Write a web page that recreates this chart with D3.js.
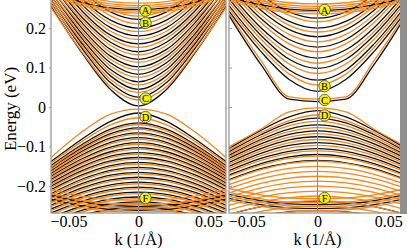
<!DOCTYPE html>
<html>
<head>
<meta charset="utf-8">
<script src="https://cdn.jsdelivr.net/npm/d3@7"></script>
<style>
html, body { margin: 0; padding: 0; background: #fff; }
svg { display: block; }
</style>
</head>
<body>
<svg id="chart" width="407" height="248"></svg>
<script>
// each band = energy (eV) at these k values (1/Å), mirrored for k < 0
const kSamples = [0, 0.02, 0.04, 0.0625];

const leftCondBlack = [
    [0.003, 0.0445, 0.135, 0.255],
    [0.025, 0.062, 0.147, 0.264],
    [0.045, 0.079, 0.159, 0.273],
    [0.064, 0.095, 0.172, 0.282],
    [0.083, 0.112, 0.184, 0.291],
    [0.102, 0.129, 0.198, 0.302],
    [0.121, 0.146, 0.212, 0.313],
    [0.140, 0.164, 0.226, 0.324],
    [0.160, 0.182, 0.242, 0.340],
    [0.180, 0.201, 0.258, 0.350],
    [0.200, 0.220, 0.274, 0.370],
    [0.222, 0.241, 0.293, 0.390],
    [0.247, 0.251, 0.265, 0.292]
];
const leftCondOrange = [
    [0.018, 0.052, 0.138, 0.252],
    [0.037, 0.070, 0.152, 0.262],
    [0.056, 0.087, 0.165, 0.271],
    [0.075, 0.104, 0.178, 0.280],
    [0.094, 0.121, 0.191, 0.290],
    [0.113, 0.138, 0.205, 0.300],
    [0.132, 0.156, 0.219, 0.311],
    [0.151, 0.174, 0.234, 0.322],
    [0.171, 0.192, 0.250, 0.335],
    [0.191, 0.211, 0.266, 0.350],
    [0.211, 0.231, 0.283, 0.370],
    [0.230, 0.248, 0.298, 0.385],
    [0.238, 0.242, 0.256, 0.285],
    [0.243, 0.247, 0.261, 0.290],
    [0.252, 0.256, 0.270, 0.296],
    [0.257, 0.261, 0.275, 0.302],
    [0.263, 0.267, 0.281, 0.308]
];
const leftValBlack = [
    [-0.015, -0.036, -0.080, -0.138],
    [-0.040, -0.056, -0.094, -0.148],
    [-0.0525, -0.067, -0.1025, -0.154],
    [-0.065, -0.078, -0.111, -0.161],
    [-0.0775, -0.089, -0.120, -0.168],
    [-0.090, -0.101, -0.130, -0.175],
    [-0.1025, -0.113, -0.140, -0.183],
    [-0.115, -0.124, -0.150, -0.192],
    [-0.1275, -0.136, -0.160, -0.200],
    [-0.140, -0.148, -0.171, -0.209],
    [-0.1525, -0.160, -0.182, -0.219],
    [-0.165, -0.172, -0.193, -0.228],
    [-0.1775, -0.184, -0.204, -0.238],
    [-0.190, -0.197, -0.215, -0.248],
    [-0.2025, -0.209, -0.227, -0.258],
    [-0.215, -0.221, -0.238, -0.268],
    [-0.2275, -0.233, -0.250, -0.279],
    [-0.240, -0.245, -0.261, -0.290],
    [-0.2525, -0.258, -0.273, -0.300],
    [-0.251, -0.249, -0.240, -0.223],
    [-0.261, -0.259, -0.250, -0.233]
];
const leftValOrange = [
    [-0.005, -0.018, -0.062, -0.128],
    [-0.027, -0.045, -0.086, -0.142],
    [-0.044, -0.060, -0.098, -0.152],
    [-0.0565, -0.071, -0.1065, -0.158],
    [-0.069, -0.082, -0.115, -0.165],
    [-0.0815, -0.093, -0.124, -0.172],
    [-0.094, -0.105, -0.134, -0.179],
    [-0.1065, -0.117, -0.144, -0.187],
    [-0.119, -0.128, -0.154, -0.196],
    [-0.1315, -0.140, -0.164, -0.204],
    [-0.144, -0.152, -0.175, -0.213],
    [-0.1565, -0.164, -0.186, -0.223],
    [-0.169, -0.176, -0.197, -0.232],
    [-0.1815, -0.188, -0.208, -0.242],
    [-0.194, -0.201, -0.219, -0.252],
    [-0.2065, -0.213, -0.231, -0.262],
    [-0.219, -0.225, -0.242, -0.272],
    [-0.2315, -0.237, -0.254, -0.283],
    [-0.244, -0.249, -0.265, -0.294],
    [-0.2565, -0.262, -0.277, -0.304],
    [-0.269, -0.274, -0.289, -0.314],
    [-0.236, -0.234, -0.226, -0.208],
    [-0.246, -0.244, -0.236, -0.218],
    [-0.256, -0.254, -0.245, -0.228],
    [-0.266, -0.264, -0.255, -0.238]
];

const rightCondBlack = [
    [0.014, 0.020, 0.108, 0.232],
    [0.040, 0.070, 0.141, 0.243],
    [0.068, 0.094, 0.160, 0.257],
    [0.098, 0.121, 0.182, 0.274],
    [0.124, 0.145, 0.201, 0.290],
    [0.152, 0.171, 0.224, 0.308],
    [0.178, 0.196, 0.245, 0.326],
    [0.200, 0.217, 0.263, 0.343],
    [0.225, 0.241, 0.285, 0.364],
    [0.245, 0.248, 0.259, 0.277]
];
const rightCondOrange = [
    [0.020, 0.026, 0.118, 0.238],
    [0.056, 0.0835, 0.151, 0.251],
    [0.085, 0.109, 0.172, 0.266],
    [0.111, 0.133, 0.191, 0.282],
    [0.140, 0.160, 0.214, 0.300],
    [0.165, 0.184, 0.234, 0.317],
    [0.190, 0.207, 0.255, 0.335],
    [0.216, 0.232, 0.277, 0.356],
    [0.236, 0.239, 0.250, 0.268],
    [0.241, 0.244, 0.255, 0.273],
    [0.250, 0.253, 0.264, 0.282],
    [0.255, 0.258, 0.269, 0.287],
    [0.261, 0.264, 0.275, 0.293]
];
const rightValBlack = [
    [-0.009, -0.025, -0.059, -0.105],
    [-0.028, -0.040, -0.070, -0.113],
    [-0.045, -0.0555, -0.082, -0.122],
    [-0.060, -0.069, -0.093, -0.130],
    [-0.075, -0.083, -0.105, -0.140],
    [-0.090, -0.097, -0.117, -0.150],
    [-0.105, -0.112, -0.130, -0.161],
    [-0.120, -0.126, -0.143, -0.172],
    [-0.135, -0.141, -0.156, -0.184],
    [-0.238, -0.242, -0.252, -0.272],
    [-0.262, -0.265, -0.275, -0.294],
    [-0.247, -0.245, -0.237, -0.221],
    [-0.257, -0.255, -0.247, -0.231]
];
const rightValOrange = [
    [-0.002, -0.012, -0.056, -0.100],
    [-0.020, -0.034, -0.065, -0.109],
    [-0.036, -0.047, -0.076, -0.117],
    [-0.052, -0.062, -0.087, -0.126],
    [-0.067, -0.076, -0.099, -0.135],
    [-0.082, -0.090, -0.111, -0.145],
    [-0.097, -0.104, -0.123, -0.155],
    [-0.111, -0.117, -0.135, -0.165],
    [-0.124, -0.130, -0.147, -0.175],
    [-0.137, -0.1425, -0.158, -0.1855],
    [-0.150, -0.155, -0.170, -0.196],
    [-0.1625, -0.167, -0.181, -0.206],
    [-0.175, -0.180, -0.193, -0.217],
    [-0.1875, -0.192, -0.2045, -0.227],
    [-0.200, -0.204, -0.216, -0.238],
    [-0.2125, -0.2165, -0.228, -0.249],
    [-0.225, -0.229, -0.240, -0.260],
    [-0.2375, -0.241, -0.252, -0.271],
    [-0.250, -0.2535, -0.264, -0.283],
    [-0.2625, -0.266, -0.276, -0.295],
    [-0.232, -0.230, -0.222, -0.206],
    [-0.242, -0.240, -0.232, -0.216],
    [-0.252, -0.250, -0.241, -0.226],
    [-0.262, -0.260, -0.251, -0.236]
];

const eTicks = [-0.2, -0.1, 0, 0.1, 0.2];
const eTickLabels = ["−0.2", "−0.1", "0", "0.1", "0.2"];
const kTicks = [-0.05, 0, 0.05];
const kTickLabels = ["−0.05", "0", "0.05"];

const pointNames = ["A", "B", "C", "D", "F"];
const leftPointE = [0.244, 0.213, 0.022, -0.025, -0.230];
const rightPointE = [0.246, 0.053, 0.018, -0.021, -0.230];
const pointK = 0.005;

const SERIF = '"Liberation Serif", "Times New Roman", Times, "DejaVu Serif", serif';
const BLACK = "#111";
const ORANGE = "#f7861c";
const FRAME = "#9a9a9a";

const svg = d3.select("#chart");
const plotBottom = 213;

const y = d3.scaleLinear().domain([-0.268, 0.271]).range([plotBottom, 0]);

const panels = [
    { x0: 51, x1: 226, black: leftCondBlack.concat(leftValBlack), orange: leftCondOrange.concat(leftValOrange), pointE: leftPointE },
    { x0: 229, x1: 406, black: rightCondBlack.concat(rightValBlack), orange: rightCondOrange.concat(rightValOrange), pointE: rightPointE }
];

function bandPoints(b) {
    const right = kSamples.map((k, i) => [k, b[i]]);
    const left = right.slice(1).reverse().map(p => [-p[0], p[1]]);
    return left.concat(right);
}

panels.forEach((p, pi) => {
    const x = d3.scaleLinear().domain([-0.0625, 0.0625]).range([p.x0, p.x1]);
    const line = d3.line()
        .x(d => x(d[0]))
        .y(d => y(d[1]))
        .curve(d3.curveMonotoneX);

    svg.append("clipPath").attr("id", "clip" + pi)
        .append("rect")
        .attr("x", p.x0).attr("y", 0)
        .attr("width", p.x1 - p.x0).attr("height", plotBottom);

    const g = svg.append("g").attr("clip-path", `url(#clip${pi})`);

    g.selectAll("path.black")
        .data(p.black)
        .enter().append("path")
        .attr("class", "black")
        .attr("d", d => line(bandPoints(d)))
        .attr("fill", "none")
        .attr("stroke", BLACK)
        .attr("stroke-width", 1.3);

    g.selectAll("path.orange")
        .data(p.orange)
        .enter().append("path")
        .attr("class", "orange")
        .attr("d", d => line(bandPoints(d)))
        .attr("fill", "none")
        .attr("stroke", ORANGE)
        .attr("stroke-width", 1.3);

    // k = 0 guide line
    g.append("line")
        .attr("x1", x(0)).attr("x2", x(0))
        .attr("y1", 0).attr("y2", plotBottom)
        .attr("stroke", "#8c8c8c")
        .attr("stroke-width", 1);

    // frame
    svg.append("rect")
        .attr("x", p.x0).attr("y", -2)
        .attr("width", p.x1 - p.x0).attr("height", plotBottom + 2)
        .attr("fill", "none")
        .attr("stroke", FRAME)
        .attr("stroke-width", 1.3);

    // y axis: labels only on the left panel
    const yAxis = svg.append("g")
        .attr("transform", `translate(${p.x0},0)`)
        .call(d3.axisLeft(y)
            .tickValues(eTicks)
            .tickSize(pi === 0 ? 2 : -3)
            .tickPadding(3)
            .tickSizeOuter(0)
            .tickFormat((d, i) => pi === 0 ? eTickLabels[i] : ""));
    yAxis.select(".domain").remove();
    yAxis.selectAll("line").attr("stroke", FRAME);
    yAxis.selectAll("text")
        .attr("fill", "#000")
        .attr("font-family", SERIF)
        .style("font-family", SERIF)
        .style("font-size", "16px");

    const xAxis = svg.append("g")
        .attr("transform", `translate(0,${plotBottom})`)
        .call(d3.axisBottom(x)
            .tickValues(kTicks)
            .tickSize(0)
            .tickPadding(3)
            .tickFormat((d, i) => kTickLabels[i]));
    xAxis.select(".domain").remove();
    xAxis.selectAll("text")
        .attr("fill", "#000")
        .attr("font-family", SERIF)
        .style("font-family", SERIF)
        .style("font-size", "16px");

    svg.append("text")
        .attr("x", x(0))
        .attr("y", 245)
        .attr("text-anchor", "middle")
        .style("font-family", SERIF)
        .style("font-size", "16.5px")
        .text("k (1/Å)");

    // labelled points
    const pts = svg.append("g").selectAll("g")
        .data(p.pointE)
        .enter().append("g")
        .attr("transform", d => `translate(${x(pointK)},${y(d)})`);
    pts.append("circle")
        .attr("r", 5.7)
        .attr("fill", "#f2f200")
        .attr("stroke", "#444")
        .attr("stroke-width", 0.8);
    pts.append("text")
        .attr("text-anchor", "middle")
        .attr("dy", "0.35em")
        .style("font-family", SERIF)
        .style("font-size", "10.5px")
        .text((d, i) => pointNames[i]);
});

// gray strip at the right edge
svg.append("rect")
    .attr("x", 400).attr("y", 0)
    .attr("width", 7).attr("height", plotBottom + 1)
    .attr("fill", "#8f8f8f");

svg.append("text")
    .attr("transform", "translate(16,109) rotate(-90)")
    .attr("text-anchor", "middle")
    .style("font-family", SERIF)
    .style("font-size", "17px")
    .text("Energy (eV)");
</script>
</body>
</html>
